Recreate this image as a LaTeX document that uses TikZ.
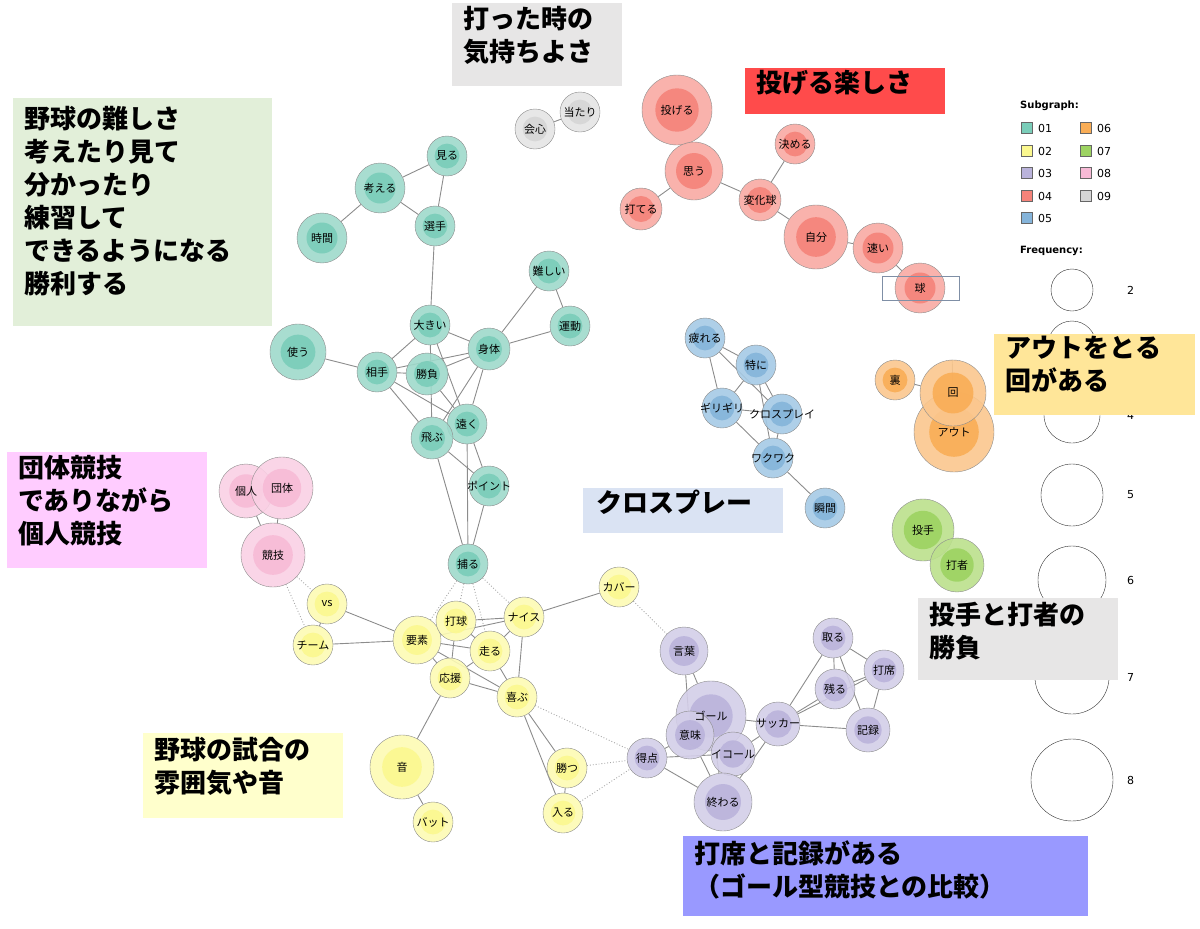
\documentclass[tikz,border=0pt]{standalone}
\usepackage{fontspec}
\setmainfont{Noto Sans CJK JP}
\newfontfamily\legfont{DejaVu Sans}
\usetikzlibrary{backgrounds}
\pgfdeclarelayer{fg}
\pgfsetlayers{background,main,fg}
\definecolor{cAo}{HTML}{9ED9CB}\definecolor{cAi}{HTML}{7ACDB9}
\definecolor{cBo}{HTML}{FDFBB4}\definecolor{cBi}{HTML}{FBF88F}
\definecolor{cCo}{HTML}{D3CEE8}\definecolor{cCi}{HTML}{BAB3DB}
\definecolor{cDo}{HTML}{F8AAA3}\definecolor{cDi}{HTML}{F5837A}
\definecolor{cEo}{HTML}{A5CAE5}\definecolor{cEi}{HTML}{85B4DA}
\definecolor{cFo}{HTML}{FBC78E}\definecolor{cFi}{HTML}{F9AD56}
\definecolor{cGo}{HTML}{BBE08C}\definecolor{cGi}{HTML}{9DD362}
\definecolor{cHo}{HTML}{FAD0E4}\definecolor{cHi}{HTML}{F7BAD6}
\definecolor{cIo}{HTML}{E4E4E4}\definecolor{cIi}{HTML}{D6D6D6}
\definecolor{bxgray}{HTML}{E7E6E6}
\definecolor{bxred}{HTML}{FF4B4B}
\definecolor{bxgreen}{HTML}{E2EFD9}
\definecolor{bxorange}{HTML}{FFE699}
\definecolor{bxblue}{HTML}{DAE3F3}
\definecolor{bxpink}{HTML}{FFCCFF}
\definecolor{bxyellow}{HTML}{FFFFCC}
\definecolor{bxpurple}{HTML}{9999FF}
\definecolor{rectc}{HTML}{7F8FA6}
\newcommand\wn[6]{%
 \node[circle,draw=black!45,fill=c#5o,fill opacity=0.9,minimum size=#4*2pt,inner sep=0pt] (#1) at (#2,#3) {};
 \fill[c#5i,fill opacity=0.9] (#1.center) circle ({#4*0.62pt});
 \begin{pgfonlayer}{fg}\node[font=\fontsize{11}{13}\selectfont,inner sep=0pt] (#1l) at (#1) {#6};\end{pgfonlayer}}
\tikzset{ed/.style={draw=black!45,line width=0.9pt},
 dt/.style={draw=black!35,line width=0.9pt,dotted},
 call/.style={anchor=north west,align=left,font=\fontsize{26}{33}\selectfont\bfseries,inner sep=0pt},
 leg/.style={font=\legfont\fontsize{11}{12}\selectfont,anchor=west,inner sep=0pt},
 lsq/.style={draw=black!60,minimum size=11pt,inner sep=0pt}}
\begin{document}
\begin{tikzpicture}[x=1pt,y=-1pt]
\useasboundingbox (0,0) rectangle (1200,929);
% callouts
\fill[bxgray] (452,3) rectangle (622,86);
\node[call] (t1) at (463,6) {打った時の\\気持ちよさ};
\fill[bxred] (745,68) rectangle (945,114);
\node[call] (t2) at (756,70) {投げる楽しさ};
\fill[bxgreen] (13,98) rectangle (272,326);
\node[call] (t3) at (24,106) {野球の難しさ\\考えたり見て\\分かったり\\練習して\\できるようになる\\勝利する};
% legend
\node[leg,font=\legfont\bfseries\fontsize{10}{11}\selectfont] (sg) at (1020,106) {Subgraph:};
\foreach \c/\l/\x/\y in {A/01/1027/128,B/02/1027/151,C/03/1027/173,D/04/1027/196,E/05/1027/218,F/06/1086/128,G/07/1086/151,H/08/1086/173,I/09/1086/196}{
 \node[lsq,fill=c\c i] (q\l) at (\x,\y) {};
 \node[leg] (ql\l) at (\x+11,\y) {\l};}
\node[leg,font=\legfont\bfseries\fontsize{10}{11}\selectfont] (fq) at (1020,251) {Frequency:};
\foreach \n/\y/\r in {2/290/21,3/345/24,4/415/28,5/495/31,6/580/34,7/677/37,8/780/41}{
 \node[circle,draw=black!80,minimum size=\r*2pt,inner sep=0pt] (f\n) at (1072,\y) {};
 \node[leg] (fl\n) at (1127,\y) {\n};}
\fill[bxorange] (994,334) rectangle (1195,415);
\node[call] (t4) at (1005,336) {アウトをとる\\回がある};
\fill[bxblue] (583,488) rectangle (783,533);
\node[call] (t5) at (596,490) {クロスプレー};
\fill[bxpink] (7,452) rectangle (207,568);
\node[call] (t6) at (18,455) {団体競技\\でありながら\\個人競技};
\fill[bxgray] (918,598) rectangle (1118,680);
\node[call] (t7) at (929,602) {投手と打者の\\勝負};
\fill[bxyellow] (143,733) rectangle (343,818);
\node[call] (t8) at (154,737) {野球の試合の\\雰囲気や音};
\fill[bxpurple] (683,836) rectangle (1088,916);
\node[call] (t9) at (694,840) {打席と記録がある\\（ゴール型競技との比較）};
% teal
\wn{miru}{447}{156}{20}{A}{見る}
\wn{kangaeru}{380}{188}{25}{A}{考える}
\wn{senshu}{435}{226}{20}{A}{選手}
\wn{jikan}{322}{238}{25}{A}{時間}
\wn{muzu}{549}{271}{20}{A}{難しい}
\wn{ookii}{430}{325}{20}{A}{大きい}
\wn{undo}{570}{326}{20}{A}{運動}
\wn{tsukau}{298}{352}{28}{A}{使う}
\wn{shintai}{489}{349}{21}{A}{身体}
\wn{aite}{377}{372}{20}{A}{相手}
\wn{shobu}{427}{374}{21}{A}{勝負}
\wn{tooku}{467}{424}{20}{A}{遠く}
\wn{tobu}{432}{438}{21}{A}{飛ぶ}
\wn{point}{489}{486}{20}{A}{ポイント}
\wn{toru}{468}{564}{20}{A}{捕る}
% red
\wn{nageru}{677}{110}{35}{D}{投げる}
\wn{omou}{694}{171}{29}{D}{思う}
\wn{uteru}{641}{209}{21}{D}{打てる}
\wn{kimeru}{795}{144}{20}{D}{決める}
\wn{henka}{760}{200}{21}{D}{変化球}
\wn{jibun}{816}{237}{32}{D}{自分}
\wn{hayai}{878}{248}{25}{D}{速い}
\wn{tama}{920}{288}{25}{D}{球}
\draw[draw=rectc,line width=0.8pt] (882,276) rectangle (959,300);
% gray
\wn{kaishin}{535}{129}{20}{I}{会心}
\wn{atari}{580}{112}{20}{I}{当たり}
% blue
\wn{tsukare}{705}{338}{20}{E}{疲れる}
\wn{tokuni}{756}{365}{20}{E}{特に}
\wn{giri}{722}{408}{20}{E}{ギリギリ}
\wn{cross}{782}{414}{20}{E}{クロスプレイ}
\wn{waku}{773}{458}{20}{E}{ワクワク}
\wn{shunkan}{825}{508}{20}{E}{瞬間}
% orange
\wn{ura}{895}{380}{20}{F}{裏}
\wn{out}{954}{432}{40}{F}{アウト}
\wn{kai}{953}{393}{33}{F}{回}
% green
\wn{toushu}{923}{530}{31}{G}{投手}
\wn{dasha}{957}{565}{27}{G}{打者}
% pink
\wn{kojin}{246}{491}{27}{H}{個人}
\wn{dantai}{282}{488}{31}{H}{団体}
\wn{kyogi}{273}{555}{32}{H}{競技}
% yellow
\wn{vs}{327}{604}{20}{B}{vs}
\wn{team}{313}{645}{20}{B}{チーム}
\wn{yoso}{417}{640}{24}{B}{要素}
\wn{dakyu}{456}{621}{20}{B}{打球}
\wn{nice}{524}{617}{20}{B}{ナイス}
\wn{cover}{619}{587}{20}{B}{カバー}
\wn{hashiru}{490}{651}{20}{B}{走る}
\wn{oen}{450}{678}{20}{B}{応援}
\wn{yorokobu}{517}{697}{20}{B}{喜ぶ}
\wn{oto}{402}{767}{32}{B}{音}
\wn{bat}{433}{822}{20}{B}{バット}
\wn{katsu}{567}{768}{20}{B}{勝つ}
\wn{hairu}{563}{813}{20}{B}{入る}
% purple
\wn{kotoba}{684}{651}{24}{C}{言葉}
\wn{goal}{711}{716}{35}{C}{ゴール}
\wn{imi}{690}{735}{24}{C}{意味}
\wn{equal}{733}{754}{22}{C}{イコール}
\wn{tokuten}{647}{758}{20}{C}{得点}
\wn{owaru}{723}{802}{29}{C}{終わる}
\wn{soccer}{778}{724}{22}{C}{サッカー}
\wn{toruP}{833}{638}{20}{C}{取る}
\wn{daseki}{884}{670}{20}{C}{打席}
\wn{nokoru}{835}{689}{20}{C}{残る}
\wn{kiroku}{868}{730}{22}{C}{記録}
\begin{scope}[on background layer]
\foreach \a/\b in {miru/kangaeru,miru/senshu,kangaeru/senshu,kangaeru/jikan,senshu/ookii,muzu/undo,muzu/shintai,undo/shintai,ookii/shintai,ookii/aite,ookii/tobu,ookii/tooku,tsukau/aite,aite/shobu,aite/shintai,shobu/shintai,aite/tooku,aite/tobu,shobu/tooku,shintai/tobu,shintai/tooku,tobu/point,tobu/toru,tooku/point,tooku/toru,point/toru,
 nageru/omou,omou/uteru,omou/henka,kimeru/henka,henka/jibun,jibun/hayai,hayai/tama,kaishin/atari,
 tsukare/tokuni,tsukare/giri,tsukare/cross,tokuni/giri,tokuni/cross,tokuni/waku,giri/cross,giri/waku,cross/waku,waku/shunkan,
 ura/kai,kai/out,toushu/dasha,kojin/kyogi,dantai/kyogi,kojin/dantai,
 vs/team,vs/yoso,team/yoso,yoso/dakyu,yoso/nice,yoso/hashiru,yoso/oen,yoso/yorokobu,dakyu/nice,dakyu/hashiru,dakyu/oen,nice/hashiru,nice/cover,nice/yorokobu,hashiru/yorokobu,oen/yorokobu,oen/hashiru,oen/oto,oto/bat,yorokobu/katsu,yorokobu/hairu,katsu/hairu,
 kotoba/goal,kotoba/imi,goal/soccer,imi/tokuten,imi/equal,imi/owaru,tokuten/equal,tokuten/owaru,equal/soccer,equal/owaru,soccer/toruP,soccer/nokoru,soccer/daseki,soccer/kiroku,toruP/nokoru,toruP/daseki,toruP/kiroku,daseki/kiroku,nokoru/daseki,owaru/soccer,goal/owaru}
 \draw[ed] (\a) -- (\b);
\foreach \a/\b in {kyogi/vs,kyogi/team,toru/dakyu,toru/nice,toru/hashiru,toru/yoso,cover/kotoba,yorokobu/tokuten,katsu/tokuten,hairu/tokuten}
 \draw[dt] (\a) -- (\b);
\end{scope}
\end{tikzpicture}
\end{document}
